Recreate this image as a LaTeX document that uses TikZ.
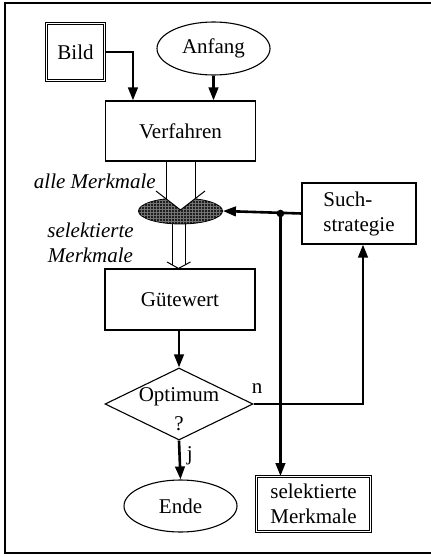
\documentclass[tikz,border=0pt]{standalone}
\usepackage{fontspec}
\setmainfont{Liberation Serif}
\usetikzlibrary{shapes.geometric,arrows.meta,patterns}

\tikzset{
  proc/.style={draw, line width=1.1pt, inner sep=0pt, align=center},
  dbl/.style={draw, line width=0.8pt, double, double distance=1.8pt, inner sep=0pt, align=center},
  term/.style={draw, ellipse, line width=1.1pt, inner sep=0pt},
  flow/.style={line width=2.6pt, -{Triangle[length=13pt,width=9.5pt]}},
  hollow/.style={line width=1pt},
  lbl/.style={font=\fontsize{21}{25}\selectfont\itshape, inner sep=0pt},
}

\begin{document}
\begin{tikzpicture}[x=1pt, y=-1pt, font=\fontsize{21}{25}\selectfont]
  \useasboundingbox (0,0) rectangle (431,557);

  % outer frame (open to the right)
  \draw[line width=1.4pt] (431,3) -- (5,3) -- (5,553) -- (431,553);

  % nodes
  \node[dbl, minimum width=58pt, minimum height=57pt] (bild) at (75.5,52) {Bild};
  \node[term, minimum width=113pt, minimum height=53pt] (anf) at (213.5,48.5) {Anfang};
  \node[proc, minimum width=150pt, minimum height=60pt] (verf) at (180.5,131) {Verfahren};
  \node[proc, minimum width=150pt, minimum height=61pt] (gut) at (180,299.5) {Gütewert};
  \node[proc, minimum width=114pt, minimum height=61pt, align=left] (such) at (359,213.5) {Such-\\strategie};
  \node[draw, diamond, line width=1.1pt, minimum width=148pt, minimum height=72pt, inner sep=0pt] (opt) at (179,404) {};
  \node[inner sep=0pt] at ([yshift=7pt]opt.center) {Optimum};
  \node[inner sep=0pt] at ([yshift=-20pt]opt.center) {?};
  \node[term, minimum width=113pt, minimum height=52pt] (ende) at (180.5,506) {Ende};
  \node[dbl, minimum width=114pt, minimum height=55pt] (selm) at (313.5,504) {selektierte\\Merkmale};

  % hatched selection element: dark fill with a fine grid
  \node[ellipse, minimum width=84pt, minimum height=26pt, inner sep=0pt,
        fill=black!88, draw=black, line width=0.8pt] (sel) at (180.5,211) {};
  \path[pattern=grid, pattern color=black!55] (sel.center) ellipse (41.5pt and 12.5pt);

  % hollow arrow: Verfahren -> selection
  \path (sel.center) ++(0,-1) coordinate (tip);
  \path (tip) ++(-14.5,-11.24) coordinate (vl) ++(29,0) coordinate (vr);
  \fill[white] (tip) -- (vl) -- ++(0,-4) -- ++(29,0) -- (vr) -- cycle;
  \draw[hollow] (vl |- verf.south) -- (vl);
  \draw[hollow] (vr |- verf.south) -- (vr);
  \draw[hollow] (tip) ++(-24.5,-19) -- (tip) -- ++(24.5,-19);

  % hollow arrow: selection -> Gütewert
  \path ([xshift=-1.5pt]gut.north) coordinate (tipb);
  \path (tipb) ++(-6.5,-3.7) coordinate (wl) ++(13,0) coordinate (wr);
  \draw[hollow] (wl |- sel.south) -- (wl);
  \draw[hollow] (wr |- sel.south) -- (wr);
  \draw[hollow] (tipb) ++(-11.5,-6.5) -- (tipb) -- ++(12,-6.5);

  % labels of the selection element
  \node[lbl, anchor=east] (allm) at (156,181) {alle Merkmale};
  \node[lbl, align=center] (selt) at (90.5,243) {selektierte\\Merkmale};

  % control flow
  \draw[flow] (bild.east) -| ([xshift=28pt]verf.north west);
  \draw[flow] (anf.south) -- (anf.south |- verf.north);
  \draw[flow] (gut.south -| opt.north) -- (opt.north);
  \draw[flow] (opt.south) -- (ende.north) node[pos=0.4, right=6pt, inner sep=0pt] {j};
  \draw[flow] (opt.east) -| ([xshift=4pt]such.south);
  \node[inner sep=0pt] (nlbl) at (257,389) {n};

  % search strategy feeds the selection and the result
  \path (such.west) ++(-21,0) coordinate (dot);
  \draw[flow] (such.west) -- (sel.east);
  \fill (dot) circle (3.8pt);
  \draw[flow] (dot) -- (dot |- selm.north);
\end{tikzpicture}
\end{document}
